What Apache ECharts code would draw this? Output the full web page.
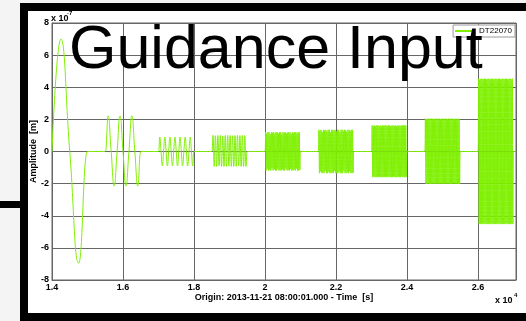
<!DOCTYPE html>
<html><head><meta charset="utf-8">
<script src="https://cdn.jsdelivr.net/npm/echarts@6/dist/echarts.min.js"></script>
<style>
html,body{margin:0;padding:0;width:526px;height:321px;overflow:hidden;background:#f4f4f4;}
#frame{position:absolute;left:20px;top:3px;width:506px;height:318px;background:#000;}
#inner{position:absolute;left:28px;top:11px;width:498px;height:302px;background:#fff;}
#bar{position:absolute;left:0;top:201px;width:20px;height:7px;background:#000;}
#chart{position:absolute;left:0;top:0;width:526px;height:321px;}
</style></head>
<body>
<div id="frame"></div><div id="inner"></div><div id="bar"></div>
<div id="chart"></div>
<script>
// ---- data (amplitude in units of 1e-7 m, time in s) ----
const titleText = 'Guidance Input';
const seriesName = 'DT22070';
const xAxisName = 'Origin: 2013-11-21 08:00:01.000 - Time  [s]';
const yAxisName = 'Amplitude  [m]';
const xMin = 14000, xMax = 27070, xStep = 2000;
const yMin = -8, yMax = 8, yStep = 2;
const yExponent = '-7';
const xExponent = '4';
const burstStarts = [14000, 15500, 17000, 18500, 20000, 21500, 23000, 24500, 26000];
const burstLength = 1000;
const burst1 = [0, 7.0, 0, -6.95, 0];
const burst2 = [0, 2.22, 0, -2.15, 0, 2.22, 0, -2.15, 0, 2.22, 0, -2.15, 0];
const burst3 = [0,0.9,0,-0.9, 0,0.9,0,-0.9, 0,0.9,0,-0.9, 0,0.9,0,-0.9, 0,0.9,0,-0.9, 0,0.9,0,-0.9, 0,0.9,0,-0.9, 0];
const burst4 = [0,
  1.0,-0.93, 0.98,-0.93, 1.0,-0.9, 1.0,-0.93, 0.97,-0.93, 1.0,-0.93, 1.0,-0.91,
  1.0,-0.93, 0.98,-0.93, 1.0,-0.93, 1.0,-0.9, 0.99,-0.93, 1.0,-0.93, 1.0,-0.93,
  0];
const burst5 = [0,
  1.21,-1.18,1.14,-1.1,1.21,-1.18,1.2,-1.16,1.08,-1.18,1.21,-1.05,1.17,-1.18,1.21,-1.12,1.1,-1.18,1.21,-1.18,
  1.2,-1.09,1.13,-1.18,1.21,-1.17,1.21,-1.18,1.06,-1.11,1.21,-1.18,1.18,-1.18,1.21,-1.07,1.12,-1.18,1.21,-1.16,
  1.2,-1.18,1.21,-1.1,1.09,-1.18,1.21,-1.18,1.16,-1.13,1.21,-1.18,1.21,-1.06,1.11,-1.18,1.21,-1.18,1.2,-1.15,
  0];
const burst6 = [0,
  1.35,-1.35,1.3,-1.24,1.35,-1.35,1.22,-1.33,1.35,-1.35,1.33,-1.2,1.35,-1.35,1.26,-1.35,1.35,-1.28,1.35,-1.35,
  1.19,-1.35,1.35,-1.31,1.35,-1.35,1.3,-1.22,1.35,-1.35,1.24,-1.35,1.35,-1.35,1.35,-1.27,1.21,-1.35,1.35,-1.35,
  1.35,-1.35,1.28,-1.19,1.35,-1.35,1.34,-1.35,1.23,-1.3,1.35,-1.35,1.35,-1.25,1.29,-1.35,1.35,-1.35,1.35,-1.33,
  0];
const burst7 = [0,
  1.62,-1.6,1.6,-1.58,1.62,-1.6,1.59,-1.6,1.62,-1.6,1.62,-1.57,1.6,-1.6,1.62,-1.6,1.58,-1.6,1.62,-1.6,
  1.61,-1.6,1.62,-1.59,1.62,-1.6,1.6,-1.6,1.62,-1.58,1.62,-1.6,1.59,-1.6,1.62,-1.6,1.62,-1.57,1.6,-1.6,
  1.62,-1.6,1.58,-1.6,1.62,-1.59,1.62,-1.6,1.6,-1.6,1.62,-1.58,1.62,-1.6,1.61,-1.6,1.62,-1.6,1.62,-1.59,
  0];
const burst8 = [0,
  2.04,-2.01,2.02,-2.01,2.04,-1.99,2.04,-2.01,2.03,-2.01,2.04,-2.0,2.04,-2.01,2.02,-2.01,2.04,-2.01,2.04,-1.99,
  2.03,-2.01,2.04,-2.01,2.04,-2.0,2.02,-2.01,2.04,-2.01,2.04,-2.01,2.03,-1.99,2.04,-2.01,2.04,-2.01,2.02,-2.01,
  2.04,-2.0,2.04,-2.01,2.03,-2.01,2.04,-2.01,2.04,-1.99,2.02,-2.01,2.04,-2.01,2.04,-2.0,2.03,-2.01,2.04,-2.01,
  0];
const burst9 = [0,
  4.53,-4.52,4.5,-4.52,4.53,-4.49,4.53,-4.52,4.51,-4.52,4.53,-4.5,4.53,-4.52,4.5,-4.52,4.53,-4.52,4.53,-4.49,
  4.51,-4.52,4.53,-4.52,4.53,-4.5,4.5,-4.52,4.53,-4.52,4.53,-4.52,4.51,-4.49,4.53,-4.52,4.53,-4.52,4.5,-4.52,
  4.53,-4.5,4.53,-4.52,4.51,-4.52,4.53,-4.52,4.53,-4.49,4.5,-4.52,4.53,-4.52,4.53,-4.5,4.51,-4.52,4.53,-4.52,
  0];
const bursts = [burst1, burst2, burst3, burst4, burst5, burst6, burst7, burst8, burst9];

// ---- build the sampled signal ----
const guard = 20;
const signal = [];
burstStarts.forEach(function (t0, i) {
  const vals = bursts[i];
  const dt = burstLength / (vals.length - 1);
  if (i > 0) signal.push([t0 - guard, 0]);
  vals.forEach(function (v, j) { signal.push([t0 + j * dt, v]); });
  signal.push([t0 + burstLength + guard, 0]);
});
signal.push([xMax, 0]);

const green = '#7ff000';
const gridColor = '#666';
const fontFam = '"Liberation Sans", Arial, Helvetica, sans-serif';
const axisText = { color: '#000', fontWeight: 'bold', fontSize: 9, fontFamily: fontFam };

const chart = echarts.init(document.getElementById('chart'), null, { renderer: 'canvas' });
chart.setOption({
  backgroundColor: 'transparent',
  animation: false,
  title: {
    text: titleText, left: 64, top: 16, z: 10,
    textStyle: { fontFamily: fontFam, fontSize: 61, fontWeight: 'normal', color: '#000' }
  },
  legend: {
    data: [seriesName], right: 11, top: 25, z: 3,
    icon: 'rect', itemWidth: 19, itemHeight: 2,
    padding: [2, 3, 2, 2], borderColor: '#999', borderWidth: 1, backgroundColor: '#fff',
    textStyle: { fontSize: 8, fontFamily: fontFam, color: '#000' }
  },
  grid: { left: 52, right: 10, top: 23, bottom: 41, show: true, borderColor: gridColor, borderWidth: 1 },
  xAxis: {
    type: 'value', min: xMin, max: xMax, interval: xStep,
    name: xAxisName, nameLocation: 'middle', nameGap: 13, nameMoveOverlap: false, nameTextStyle: axisText,
    axisLine: { onZero: false, lineStyle: { color: gridColor } },
    axisTick: { show: false },
    axisLabel: Object.assign({ margin: 3, showMaxLabel: false, formatter: function (v) { return String(+(v / 10000).toFixed(1)); } }, axisText),
    splitLine: { show: true, lineStyle: { color: gridColor, width: 1 } }
  },
  yAxis: {
    type: 'value', min: yMin, max: yMax, interval: yStep,
    name: yAxisName, nameLocation: 'middle', nameGap: 14, nameMoveOverlap: false, nameTextStyle: axisText,
    axisLine: { show: true, onZero: false, lineStyle: { color: gridColor } },
    axisTick: { show: false },
    axisLabel: Object.assign({ margin: 3 }, axisText),
    splitLine: { show: true, lineStyle: { color: gridColor, width: 1 } }
  },
  graphic: [
    { type: 'text', x: 51, y: 14, z: 5, style: { text: 'x 10', fontSize: 9, fontWeight: 'bold', fontFamily: fontFam, fill: '#000' } },
    { type: 'text', x: 67, y: 10, z: 5, style: { text: yExponent, fontSize: 6, fontWeight: 'bold', fontFamily: fontFam, fill: '#000' } },
    { type: 'text', x: 495, y: 296, z: 5, style: { text: 'x 10', fontSize: 9, fontWeight: 'bold', fontFamily: fontFam, fill: '#000' } },
    { type: 'text', x: 514, y: 292, z: 5, style: { text: xExponent, fontSize: 6, fontWeight: 'bold', fontFamily: fontFam, fill: '#000' } }
  ],
  series: [{
    type: 'line', name: seriesName, data: signal,
    showSymbol: false, symbol: 'none', smooth: 0.5,
    lineStyle: { color: green, width: 1 }, itemStyle: { color: green },
    z: 2
  }]
});
</script>
</body></html>
